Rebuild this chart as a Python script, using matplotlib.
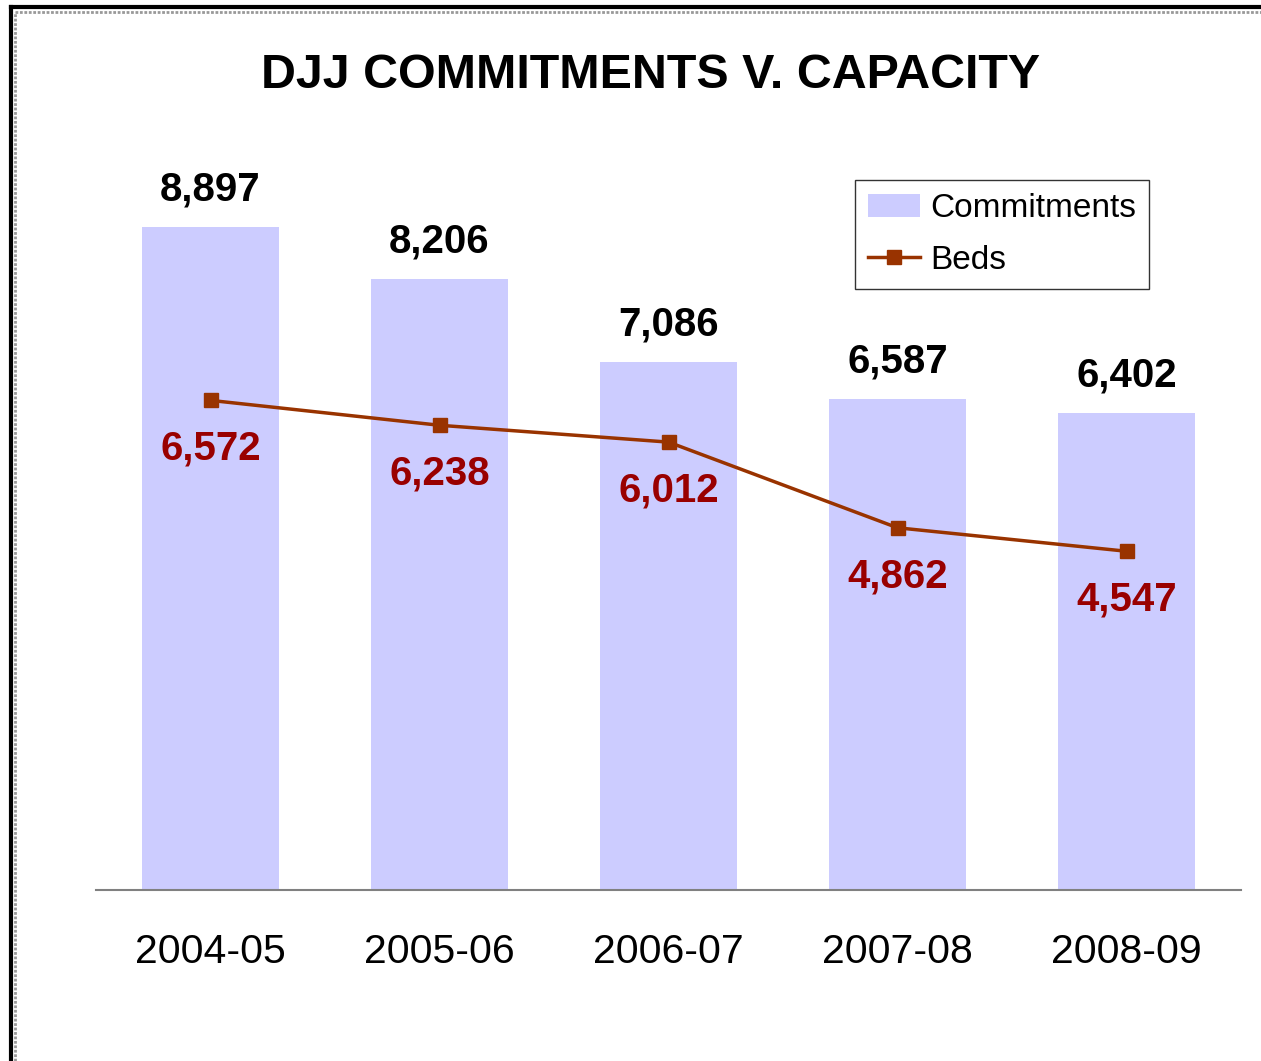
import numpy as np
import matplotlib.pyplot as plt
from matplotlib.lines import Line2D

years = ["2004-05", "2005-06", "2006-07", "2007-08", "2008-09"]
commitments = [8897, 8206, 7086, 6587, 6402]
beds = [6572, 6238, 6012, 4862, 4547]

plt.rcParams['font.family'] = ['Liberation Sans', 'DejaVu Sans']

W, H = 1261, 1061
fig = plt.figure(figsize=(W / 100, H / 100), dpi=100)

# page border: thick black outer line + dotted grey inner line
for x0, y0, lw, col, ls in [(10.5, 6.5, 3, "black", "-"), (15, 12, 2, "#999999", (0, (1, 0.6)))]:
    fig.add_artist(Line2D([x0 / W, x0 / W], [0, 1 - y0 / H], color=col, lw=lw, ls=ls,
                          transform=fig.transFigure))
    fig.add_artist(Line2D([x0 / W, 1], [1 - y0 / H, 1 - y0 / H], color=col, lw=lw, ls=ls,
                          transform=fig.transFigure))

ax = fig.add_axes([96 / W, 1 - 890 / H, (1241 - 96) / W, (890 - 145) / H])
x = np.arange(len(years))

bars = ax.bar(x, commitments, width=0.594, color="#CCCCFF", label="Commitments", zorder=1)
line, = ax.plot(x, beds, color="#993300", lw=2.5, marker="s", markersize=10,
                markerfacecolor="#993300", markeredgecolor="#993300", label="Beds", zorder=3)

for xi, c in zip(x, commitments):
    ax.annotate(f"{c:,}", (xi, c), xytext=(0, 27), textcoords="offset points",
                ha="center", va="center", fontsize=29, fontweight="bold", color="black")
for xi, b in zip(x, beds):
    ax.annotate(f"{b:,}", (xi, b), xytext=(0, -35), textcoords="offset points",
                ha="center", va="center", fontsize=29, fontweight="bold", color="#990000")

ax.set_xlim(-0.5, 4.5)
ax.set_ylim(0, 10000)
ax.set_xticks(x)
ax.set_xticklabels(years, fontsize=29.5)
ax.tick_params(axis="x", length=0, pad=31)
ax.set_yticks([])
for side in ["left", "right", "top"]:
    ax.spines[side].set_visible(False)
ax.spines["bottom"].set_color("#808080")
ax.spines["bottom"].set_linewidth(1.5)

fig.text(651 / W, 1 - 76 / H, "DJJ COMMITMENTS V. CAPACITY", ha="center", va="center",
         fontsize=34.8, fontweight="bold")

leg = ax.legend([bars, line], ["Commitments", "Beds"], loc="upper left",
                bbox_to_anchor=(855 / W, 1 - 180 / H),
                bbox_transform=fig.transFigure, fontsize=24, frameon=True, fancybox=False,
                handlelength=1.55, handleheight=0.7, handletextpad=0.3, borderpad=0.4,
                labelspacing=0.62, borderaxespad=0)
leg.get_frame().set_edgecolor("black")
leg.get_frame().set_linewidth(1)

fig.savefig("out.png", dpi=100)
